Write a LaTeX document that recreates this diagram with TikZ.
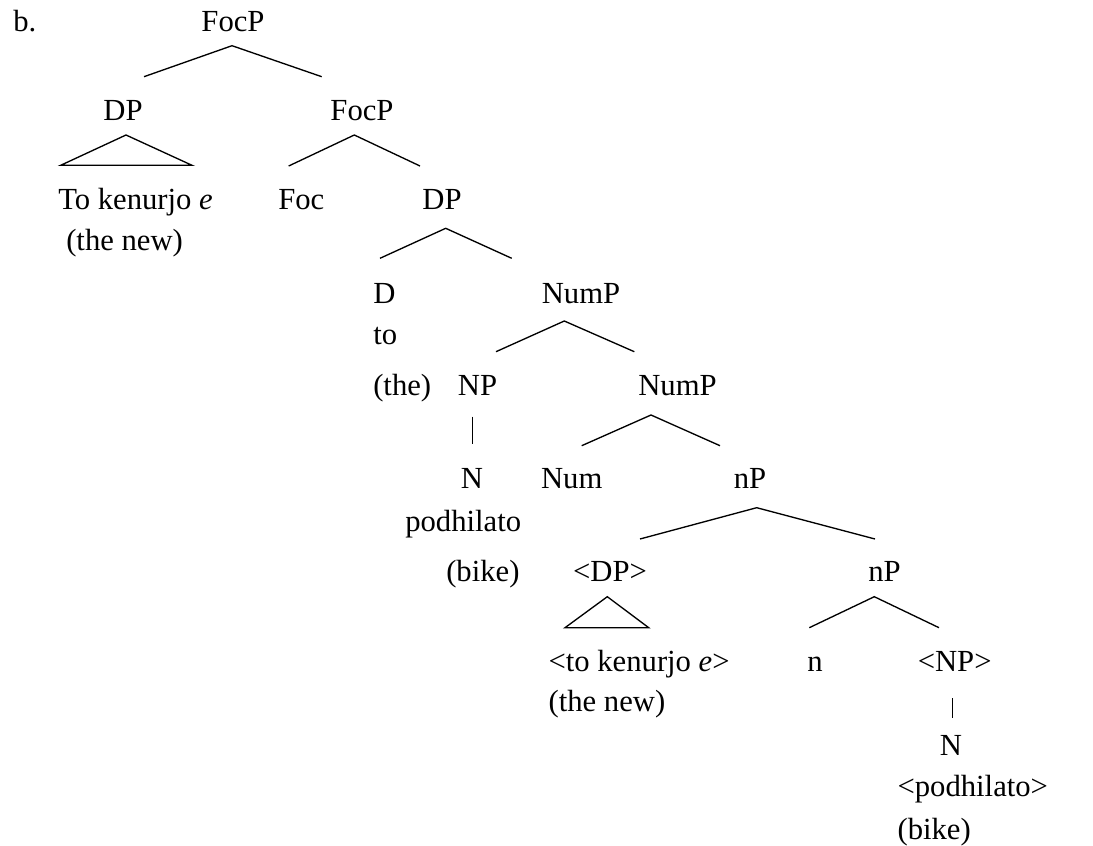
\documentclass[tikz,border=0pt]{standalone}
\usepackage{fontspec}
\setmainfont{Liberation Serif}
\begin{document}
\begin{tikzpicture}[x=0.75pt,y=-0.75pt,
  lbl/.style={anchor=base,inner sep=0pt,font=\fontsize{23}{28}\selectfont},
  lblw/.style={lbl,anchor=base west},
  branch/.style={line width=1pt,line join=miter}]
\useasboundingbox (0,0) rectangle (1093,846);
% labels
\node[lblw] (ex) at (13,31.7) {b.};
\node[lbl] (focp1) at (233,31.7) {FocP};
\node[lbl] (dp1) at (123,120) {DP};
\node[lbl] (focp2) at (362,120) {FocP};
\node[lblw] (tokenurjo) at (58,209) {To kenurjo \textit{e}};
\node[lblw] (thenew1) at (66,250) {(the new)};
\node[lblw] (foc) at (278,209) {Foc};
\node[lbl] (dp2) at (442,209) {DP};
\node[lblw] (d) at (373,303) {D};
\node[lbl] (nump1) at (581,303) {NumP};
\node[lblw] (to) at (373,344) {to};
\node[lblw] (the) at (373,395) {(the)};
\node[lbl] (np1) at (477.5,395) {NP};
\node[lbl] (nump2) at (677.5,395) {NumP};
\node[lbl] (n1) at (472,488.3) {N};
\node[lbl] (num) at (571.7,488.3) {Num};
\node[lbl] (np2) at (750,488.3) {nP};
\node[lblw] (podhilato) at (405,531) {podhilato};
\node[lblw] (bike1) at (446,581.7) {(bike)};
\node[lbl] (dp3) at (610,581.7) {<DP>};
\node[lbl] (np3) at (884.5,581.7) {nP};
\node[lblw] (tokenurjo2) at (548.3,671) {<to kenurjo \textit{e}>};
\node[lblw] (thenew2) at (548.3,711) {(the new)};
\node[lbl] (nsmall) at (815,671) {n};
\node[lbl] (np4) at (954.7,671) {<NP>};
\node[lbl] (n2) at (951,755) {N};
\node[lblw] (podhilato2) at (897.3,796.7) {<podhilato>};
\node[lblw] (bike2) at (897.3,839) {(bike)};
% branch points
\coordinate (a1) at (232,45.7);   \coordinate (a1l) at (144,76.7);   \coordinate (a1r) at (321.7,76.7);
\coordinate (t1) at (126,135);    \coordinate (t1l) at (60.7,165.3); \coordinate (t1r) at (192,165.3);
\coordinate (a2) at (354.3,135);  \coordinate (a2l) at (288.7,166);  \coordinate (a2r) at (420,166);
\coordinate (a3) at (445.7,228.3);\coordinate (a3l) at (380,258.3);  \coordinate (a3r) at (511.7,258.3);
\coordinate (a4) at (564.3,321);  \coordinate (a4l) at (496,351.7);  \coordinate (a4r) at (634.3,351.7);
\coordinate (v1t) at (472.3,416.7); \coordinate (v1b) at (472.3,444);
\coordinate (a5) at (651,415);    \coordinate (a5l) at (581.7,445.7);\coordinate (a5r) at (720,445.7);
\coordinate (a6) at (756.7,507.7);\coordinate (a6l) at (640,539);    \coordinate (a6r) at (875,539);
\coordinate (t2) at (607.3,596.7);\coordinate (t2l) at (565,627.7);  \coordinate (t2r) at (648.7,627.7);
\coordinate (a7) at (874.3,596.7);\coordinate (a7l) at (809.3,627.7);\coordinate (a7r) at (939,627.7);
\coordinate (v2t) at (952.3,698); \coordinate (v2b) at (952.3,718);
% branches
\draw[branch] (a1l) -- (a1) -- (a1r);
\draw[branch] (t1l) -- (t1) -- (t1r) -- cycle;
\draw[branch] (a2l) -- (a2) -- (a2r);
\draw[branch] (a3l) -- (a3) -- (a3r);
\draw[branch] (a4l) -- (a4) -- (a4r);
\draw[branch] (v1t) -- (v1b);
\draw[branch] (a5l) -- (a5) -- (a5r);
\draw[branch] (a6l) -- (a6) -- (a6r);
\draw[branch] (t2l) -- (t2) -- (t2r) -- cycle;
\draw[branch] (a7l) -- (a7) -- (a7r);
\draw[branch] (v2t) -- (v2b);
\end{tikzpicture}
\end{document}
